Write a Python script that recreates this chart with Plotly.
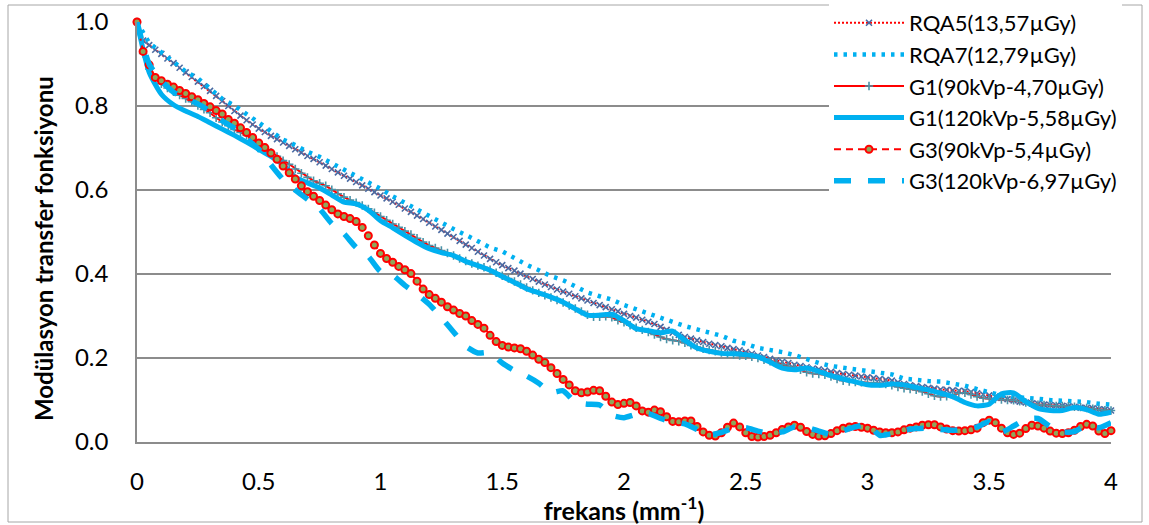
import plotly.graph_objects as go

# ---------------- data ----------------
FINE_STEP = 0.025   # mm^-1, sampling of the marker series
COARSE_STEP = 0.05  # mm^-1, sampling of the line-only series

series_names = [
    "RQA5(13,57µGy)",
    "RQA7(12,79µGy)",
    "G1(90kVp-4,70µGy)",
    "G1(120kVp-5,58µGy)",
    "G3(90kVp-5,4µGy)",
    "G3(120kVp-6,97µGy)",
]

rqa5 = [
    1.000, 0.956, 0.945, 0.934, 0.924, 0.913, 0.902, 0.891, 0.880, 0.869,
    0.858, 0.847, 0.836, 0.824, 0.812, 0.800, 0.788, 0.777, 0.766, 0.756,
    0.746, 0.738, 0.729, 0.721, 0.713, 0.705, 0.697, 0.689, 0.681, 0.674,
    0.666, 0.658, 0.650, 0.642, 0.634, 0.627, 0.619, 0.611, 0.603, 0.595,
    0.587, 0.580, 0.572, 0.565, 0.556, 0.548, 0.539, 0.531, 0.522, 0.513,
    0.505, 0.496, 0.488, 0.479, 0.470, 0.462, 0.453, 0.444, 0.436, 0.428,
    0.421, 0.414, 0.408, 0.401, 0.394, 0.388, 0.382, 0.375, 0.369, 0.363,
    0.358, 0.353, 0.347, 0.342, 0.337, 0.331, 0.326, 0.321, 0.316, 0.311,
    0.305, 0.300, 0.296, 0.291, 0.286, 0.281, 0.274, 0.267, 0.260, 0.255,
    0.250, 0.246, 0.242, 0.238, 0.234, 0.231, 0.228, 0.224, 0.221, 0.218,
    0.214, 0.210, 0.206, 0.202, 0.198, 0.194, 0.191, 0.188, 0.184, 0.181,
    0.178, 0.175, 0.173, 0.170, 0.167, 0.164, 0.162, 0.160, 0.158, 0.156,
    0.154, 0.152, 0.150, 0.148, 0.146, 0.142, 0.138, 0.135, 0.133, 0.131,
    0.129, 0.127, 0.125, 0.124, 0.123, 0.122, 0.121, 0.119, 0.116, 0.113,
    0.111, 0.108, 0.105, 0.102, 0.099, 0.096, 0.094, 0.092, 0.091, 0.089,
    0.088, 0.087, 0.086, 0.085, 0.084, 0.082, 0.081, 0.080, 0.078, 0.077,
    0.075,
]

g1_90 = [
    1.000, 0.925, 0.888, 0.866, 0.853, 0.843, 0.834, 0.826, 0.818, 0.810,
    0.801, 0.792, 0.784, 0.772, 0.762, 0.753, 0.744, 0.737, 0.730, 0.721,
    0.711, 0.701, 0.690, 0.680, 0.670, 0.661, 0.650, 0.640, 0.630, 0.622,
    0.616, 0.610, 0.601, 0.591, 0.583, 0.576, 0.570, 0.563, 0.555, 0.546,
    0.537, 0.528, 0.519, 0.511, 0.502, 0.494, 0.485, 0.476, 0.468, 0.462,
    0.456, 0.450, 0.444, 0.437, 0.431, 0.425, 0.420, 0.416, 0.410, 0.403,
    0.396, 0.389, 0.382, 0.375, 0.368, 0.361, 0.355, 0.349, 0.344, 0.338,
    0.332, 0.325, 0.318, 0.311, 0.303, 0.298, 0.298, 0.299, 0.297, 0.290,
    0.285, 0.278, 0.272, 0.267, 0.262, 0.256, 0.250, 0.245, 0.242, 0.240,
    0.236, 0.230, 0.226, 0.222, 0.219, 0.216, 0.213, 0.210, 0.208, 0.206,
    0.205, 0.203, 0.200, 0.196, 0.192, 0.188, 0.184, 0.180, 0.177, 0.172,
    0.166, 0.163, 0.162, 0.160, 0.156, 0.150, 0.146, 0.144, 0.143, 0.142,
    0.141, 0.141, 0.140, 0.138, 0.135, 0.131, 0.128, 0.126, 0.124, 0.120,
    0.115, 0.110, 0.108, 0.109, 0.112, 0.116, 0.117, 0.113, 0.108, 0.104,
    0.103, 0.102, 0.101, 0.100, 0.099, 0.097, 0.094, 0.091, 0.089, 0.088,
    0.087, 0.086, 0.086, 0.085, 0.084, 0.083, 0.081, 0.079, 0.077, 0.076,
    0.075,
]

g3_90 = [
    1.000, 0.930, 0.898, 0.868, 0.860, 0.852, 0.845, 0.837, 0.830, 0.822,
    0.815, 0.806, 0.798, 0.789, 0.781, 0.768, 0.759, 0.748, 0.737, 0.725,
    0.712, 0.701, 0.688, 0.673, 0.657, 0.641, 0.626, 0.610, 0.596, 0.585,
    0.575, 0.564, 0.553, 0.543, 0.537, 0.532, 0.525, 0.511, 0.491, 0.469,
    0.449, 0.437, 0.428, 0.418, 0.410, 0.401, 0.383, 0.364, 0.351, 0.342,
    0.333, 0.322, 0.314, 0.306, 0.300, 0.289, 0.280, 0.271, 0.254, 0.239,
    0.230, 0.226, 0.224, 0.222, 0.216, 0.207, 0.197, 0.189, 0.177, 0.163,
    0.149, 0.136, 0.122, 0.117, 0.119, 0.123, 0.122, 0.109, 0.095, 0.089,
    0.092, 0.094, 0.086, 0.074, 0.071, 0.076, 0.072, 0.060, 0.049, 0.048,
    0.050, 0.050, 0.037, 0.024, 0.016, 0.014, 0.022, 0.035, 0.045, 0.036,
    0.022, 0.013, 0.012, 0.013, 0.016, 0.022, 0.030, 0.036, 0.040, 0.035,
    0.025, 0.018, 0.014, 0.015, 0.020, 0.027, 0.033, 0.036, 0.037, 0.035,
    0.033, 0.028, 0.024, 0.022, 0.022, 0.024, 0.029, 0.033, 0.036, 0.040,
    0.041, 0.041, 0.036, 0.031, 0.027, 0.026, 0.027, 0.029, 0.033, 0.046,
    0.052, 0.046, 0.033, 0.022, 0.018, 0.021, 0.032, 0.040, 0.038, 0.033,
    0.026, 0.021, 0.020, 0.022, 0.028, 0.037, 0.042, 0.038, 0.026, 0.020,
    0.027,
]

rqa7 = [
    1.000, 0.950, 0.928, 0.905, 0.882, 0.866, 0.843, 0.817, 0.801, 0.781,
    0.762, 0.742, 0.720, 0.707, 0.691, 0.679, 0.664, 0.648, 0.632, 0.618,
    0.603, 0.585, 0.569, 0.552, 0.538, 0.522, 0.507, 0.493, 0.478, 0.463,
    0.454, 0.437, 0.422, 0.409, 0.395, 0.385, 0.371, 0.356, 0.347, 0.339,
    0.326, 0.316, 0.307, 0.295, 0.285, 0.276, 0.268, 0.261, 0.253, 0.241,
    0.234, 0.224, 0.220, 0.214, 0.207, 0.197, 0.188, 0.181, 0.177, 0.173,
    0.169, 0.165, 0.161, 0.151, 0.147, 0.145, 0.144, 0.139, 0.134, 0.126,
    0.118, 0.111, 0.107, 0.106, 0.103, 0.100, 0.098, 0.098, 0.095, 0.091,
    0.089,
]

g1_120 = [
    1.000, 0.880, 0.828, 0.803, 0.788, 0.775, 0.760, 0.745, 0.730, 0.714,
    0.697, 0.680, 0.660, 0.630, 0.617, 0.605, 0.588, 0.571, 0.567, 0.552,
    0.527, 0.510, 0.492, 0.475, 0.460, 0.451, 0.444, 0.430, 0.420, 0.409,
    0.394, 0.380, 0.365, 0.355, 0.345, 0.333, 0.317, 0.302, 0.302, 0.304,
    0.289, 0.270, 0.265, 0.260, 0.264, 0.242, 0.224, 0.216, 0.211, 0.210,
    0.208, 0.203, 0.190, 0.176, 0.172, 0.176, 0.168, 0.158, 0.150, 0.143,
    0.136, 0.135, 0.138, 0.136, 0.130, 0.124, 0.116, 0.108, 0.094, 0.086,
    0.090, 0.115, 0.117, 0.096, 0.080, 0.075, 0.075, 0.082, 0.077, 0.066,
    0.071,
]

g3_120 = [
    1.000, 0.900, 0.860, 0.833, 0.818, 0.805, 0.788, 0.765, 0.747, 0.722,
    0.697, 0.660, 0.625, 0.600, 0.578, 0.555, 0.520, 0.496, 0.463, 0.442,
    0.406, 0.397, 0.373, 0.352, 0.328, 0.296, 0.262, 0.228, 0.212, 0.213,
    0.188, 0.170, 0.157, 0.140, 0.118, 0.122, 0.095, 0.090, 0.088, 0.064,
    0.058, 0.066, 0.068, 0.056, 0.048, 0.043, 0.030, 0.017, 0.023, 0.033,
    0.034, 0.026, 0.020, 0.024, 0.036, 0.035, 0.026, 0.018, 0.027, 0.036,
    0.042, 0.016, 0.020, 0.028, 0.032, 0.033, 0.030, 0.028, 0.030, 0.036,
    0.048, 0.024, 0.038, 0.054, 0.056, 0.037, 0.024, 0.025, 0.040, 0.034,
    0.046,
]

x_ticks = [0, 0.5, 1, 1.5, 2, 2.5, 3, 3.5, 4]
y_ticks = [0.0, 0.2, 0.4, 0.6, 0.8, 1.0]
x_title = "<b>frekans (mm<sup>-1</sup>)</b>"
y_title = "<b>Modülasyon transfer fonksiyonu</b>"

for arr in (rqa5, g1_90, g3_90):
    if len(arr) != 161:
        raise ValueError("fine series length %d" % len(arr))
for arr in (rqa7, g1_120, g3_120):
    if len(arr) != 81:
        raise ValueError("coarse series length %d" % len(arr))

f_fine = [round(i * FINE_STEP, 3) for i in range(len(rqa5))]
f_coarse = [round(i * COARSE_STEP, 3) for i in range(len(rqa7))]

# ---------------- figure ----------------
FONT = "Lato, 'Open Sans', sans-serif"
W, H = 1149, 525
L, R, T, B = 137, 38, 22, 83

fig = go.Figure()

def add(name, x, y, **kw):
    fig.add_trace(go.Scatter(x=x, y=y, name=name, legendgroup=name,
                             cliponaxis=False, **kw))

add(series_names[0], f_fine, rqa5, mode="lines+markers",
    line=dict(color="#FF0000", width=2, dash="2px,2px"),
    marker=dict(symbol="x-thin", size=6, color="#4A6BA3",
                line=dict(width=1.6, color="#4A6BA3")))
add(series_names[1], f_coarse, rqa7, mode="lines",
    line=dict(color="#00B0F0", width=4.5, dash="3.5px,6px"))
add(series_names[2], f_fine, g1_90, mode="lines+markers",
    line=dict(color="#FF0000", width=2),
    marker=dict(symbol="cross-thin", size=6, color="#4A93A8",
                line=dict(width=1.6, color="#4A93A8")))
add(series_names[3], f_coarse, g1_120, mode="lines",
    line=dict(color="#00B0F0", width=5, shape="spline", smoothing=0.6))
add(series_names[4], f_fine, g3_90, mode="lines+markers",
    line=dict(color="#FF0000", width=2, dash="7px,5px"),
    marker=dict(symbol="circle", size=7, color="#8FA65A",
                line=dict(width=2, color="#FF0000")))
add(series_names[5], f_coarse, g3_120, mode="lines",
    line=dict(color="#00B0F0", width=5.5, dash="17px,17px", shape="spline",
              smoothing=0.6))

pw = W - L - R
ph = H - T - B

def px_to_paper_x(px):
    return (px - L) / pw

def px_to_paper_y(py):
    return (H - B - py) / ph

# outer chart border
fig.add_shape(type="rect", xref="paper", yref="paper",
              x0=px_to_paper_x(8), x1=px_to_paper_x(1142),
              y0=px_to_paper_y(522), y1=px_to_paper_y(5),
              line=dict(color="#A6A6A6", width=1), layer="below")

# y-axis title (placed like the reference, slightly below plot centre)
fig.add_annotation(text=y_title, textangle=-90, showarrow=False,
                   xref="paper", yref="paper",
                   x=px_to_paper_x(43), y=px_to_paper_y(249),
                   xanchor="center", yanchor="middle",
                   font=dict(family=FONT, size=24, color="#000000"))

fig.update_layout(
    width=W, height=H,
    margin=dict(l=L, r=R, t=T, b=B, autoexpand=False),
    paper_bgcolor="white", plot_bgcolor="white",
    font=dict(family=FONT, size=22, color="#000000"),
    showlegend=True,
    legend=dict(
        x=px_to_paper_x(829), y=px_to_paper_y(2),
        xanchor="left", yanchor="top",
        bgcolor="white", borderwidth=0,
        font=dict(family=FONT, size=22, color="#000000"),
        itemwidth=70, tracegroupgap=0,
        traceorder="normal",
    ),
    xaxis=dict(
        range=[0, 4], tickvals=x_ticks, ticktext=[str(v) for v in x_ticks],
        showgrid=False, zeroline=False,
        showline=True, linecolor="#8C8C8C", linewidth=1.5,
        ticks="", ticklabelstandoff=17,
        tickfont=dict(family=FONT, size=24),
        title=dict(text=x_title, font=dict(family=FONT, size=25), standoff=0),
        automargin=False,
    ),
    yaxis=dict(
        range=[0, 1], tickvals=y_ticks,
        ticktext=["%.1f" % v for v in y_ticks],
        showgrid=True, gridcolor="#8C8C8C", gridwidth=1.5,
        zeroline=False,
        showline=True, linecolor="#8C8C8C", linewidth=1.5,
        ticks="", ticklabelstandoff=22,
        tickfont=dict(family=FONT, size=24),
        automargin=False,
    ),
)

fig.write_html("out.html", config={"displayModeBar": False},
               post_script="document.body.style.margin='0';")
